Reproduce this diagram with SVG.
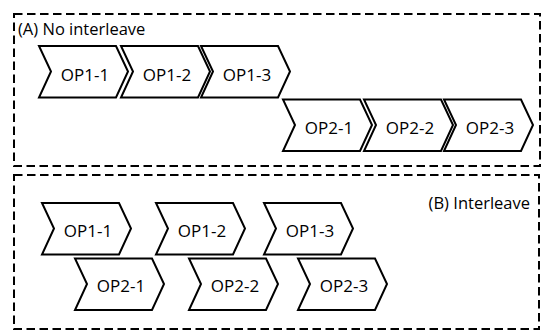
<svg xmlns="http://www.w3.org/2000/svg" xmlns:xlink="http://www.w3.org/1999/xlink" width="542" height="331" viewBox="0 0 542 331">
  <style>
    .frame { fill: none; stroke: #000; stroke-width: 2; stroke-dasharray: 8.5 4.5; }
    .step { fill: #fff; stroke: #000; stroke-width: 2; stroke-linejoin: miter; }
    .lbl { font-family: "Open Sans", "Liberation Sans", sans-serif; font-size: 16.5px; fill: #000; }
    .op { text-anchor: middle; font-size: 17px; }
  </style>
  <defs>
    <!-- chevron step, 77 wide body, 12 deep point/notch -->
    <path id="chev" d="M0,0 H77 L89,25.5 L77,51.5 H0 L12,25.5 Z"/>
  </defs>

  <!-- (A) panel -->
  <rect class="frame" x="14" y="14" width="526" height="152"/>
  <text class="lbl" x="18" y="34.5">(A) No interleave</text>

  <!-- (B) panel -->
  <rect class="frame" x="14" y="175" width="525" height="154"/>
  <text class="lbl" x="530" y="208.5" text-anchor="end">(B) Interleave</text>

  <g id="connectors"></g>

  <!-- (A) sequential steps -->
  <g id="a-op1-1" transform="translate(39,46)"><use href="#chev" class="step"/><text class="lbl op" x="46" y="34.5">OP1-1</text></g>
  <g id="a-op1-2" transform="translate(121,46)"><use href="#chev" class="step"/><text class="lbl op" x="46" y="34.5">OP1-2</text></g>
  <g id="a-op1-3" transform="translate(201,46)"><use href="#chev" class="step"/><text class="lbl op" x="46" y="34.5">OP1-3</text></g>
  <g id="a-op2-1" transform="translate(283,99.5)"><use href="#chev" class="step"/><text class="lbl op" x="46" y="34.5">OP2-1</text></g>
  <g id="a-op2-2" transform="translate(364,99.5)"><use href="#chev" class="step"/><text class="lbl op" x="46" y="34.5">OP2-2</text></g>
  <g id="a-op2-3" transform="translate(444,99.5)"><use href="#chev" class="step"/><text class="lbl op" x="46" y="34.5">OP2-3</text></g>

  <!-- (B) interleaved steps -->
  <g id="b-op1-1" transform="translate(42,203)"><use href="#chev" class="step"/><text class="lbl op" x="46" y="33.5">OP1-1</text></g>
  <g id="b-op1-2" transform="translate(156,203)"><use href="#chev" class="step"/><text class="lbl op" x="46" y="33.5">OP1-2</text></g>
  <g id="b-op1-3" transform="translate(264,203)"><use href="#chev" class="step"/><text class="lbl op" x="46" y="33.5">OP1-3</text></g>
  <g id="b-op2-1" transform="translate(75,258.5)"><use href="#chev" class="step"/><text class="lbl op" x="46" y="33.5">OP2-1</text></g>
  <g id="b-op2-2" transform="translate(189,258.5)"><use href="#chev" class="step"/><text class="lbl op" x="46" y="33.5">OP2-2</text></g>
  <g id="b-op2-3" transform="translate(298,258.5)"><use href="#chev" class="step"/><text class="lbl op" x="46" y="33.5">OP2-3</text></g>
</svg>
